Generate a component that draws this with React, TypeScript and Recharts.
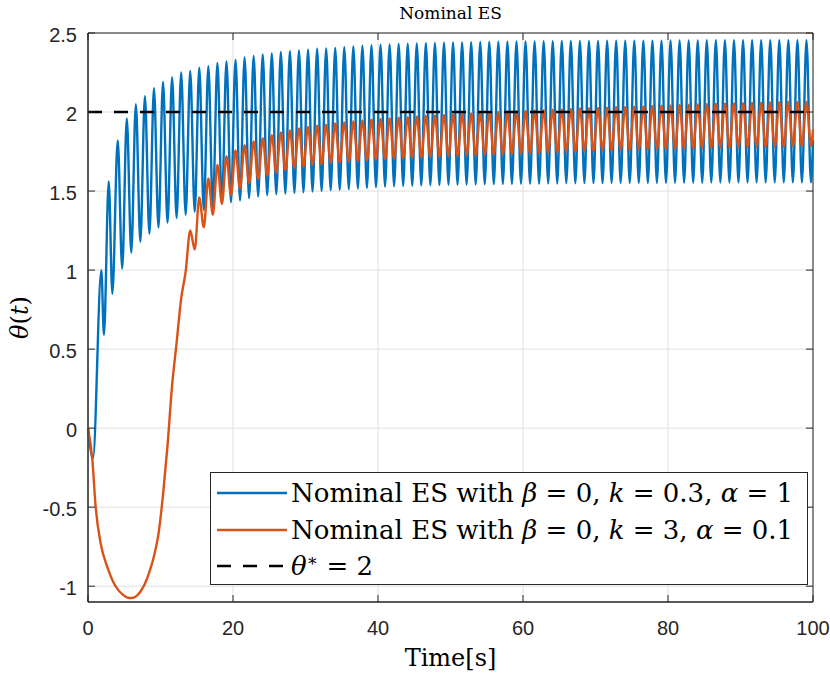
import React from "react";
import { LineChart, Line, XAxis, YAxis, CartesianGrid, ReferenceArea } from "recharts";

const AXIS = "#262626";
const BLUE = "#0072BD";
const ORANGE = "#D95319";
const PLOT = { left: 88, top: 33, right: 813, bottom: 602 };

const xTicks = [0, 20, 40, 60, 80, 100];
const yTicks = [-1, -0.5, 0, 0.5, 1, 1.5, 2, 2.5];
const xDomain = [0, 100];
const yDomain = [-1.1, 2.5];
const targetTheta = 2;

// first few seconds, read one by one
const blueStartT = [0, 0.69, 1.84, 2.2, 2.86, 3.36];
const blueStartY = [0, -0.19, 1.0, 0.59, 1.56, 0.85];
const orangeStartT = [0, 0.6, 1.06, 1.75, 2.67, 3.4];
const orangeStartY = [0, -0.2, -0.5, -0.73, -0.88, -0.965];

// times of the dither peaks / troughs
const peakTimes = [
  4.1, 5.35, 6.6, 7.85, 9.1, 10.35, 11.6, 12.85, 14.1, 15.35,
  16.6, 17.85, 19.1, 20.35, 21.6, 22.85, 24.1, 25.35, 26.6, 27.85,
  29.1, 30.35, 31.6, 32.85, 34.1, 35.35, 36.6, 37.85, 39.1, 40.35,
  41.6, 42.85, 44.1, 45.35, 46.6, 47.85, 49.1, 50.35, 51.6, 52.85,
  54.1, 55.35, 56.6, 57.85, 59.1, 60.35, 61.6, 62.85, 64.1, 65.35,
  66.6, 67.85, 69.1, 70.35, 71.6, 72.85, 74.1, 75.35, 76.6, 77.85,
  79.1, 80.35, 81.6, 82.85, 84.1, 85.35, 86.6, 87.85, 89.1, 90.35,
  91.6, 92.85, 94.1, 95.35, 96.6, 97.85, 99.1,
];
const troughTimes = [
  4.72, 5.97, 7.22, 8.47, 9.72, 10.97, 12.22, 13.47, 14.72, 15.97,
  17.22, 18.47, 19.72, 20.97, 22.22, 23.47, 24.72, 25.97, 27.22, 28.47,
  29.72, 30.97, 32.22, 33.47, 34.72, 35.97, 37.22, 38.47, 39.72, 40.97,
  42.22, 43.47, 44.72, 45.97, 47.22, 48.47, 49.72, 50.97, 52.22, 53.47,
  54.72, 55.97, 57.22, 58.47, 59.72, 60.97, 62.22, 63.47, 64.72, 65.97,
  67.22, 68.47, 69.72, 70.97, 72.22, 73.47, 74.72, 75.97, 77.22, 78.47,
  79.72, 80.97, 82.22, 83.47, 84.72, 85.97, 87.22, 88.47, 89.72, 90.97,
  92.22, 93.47, 94.72, 95.97, 97.22, 98.47, 99.72,
];

const bluePeaks = [
  1.82, 1.96, 2.05, 2.1, 2.15, 2.19, 2.22, 2.25, 2.26, 2.28,
  2.29, 2.31, 2.32, 2.33, 2.345, 2.355, 2.365, 2.37, 2.38, 2.385,
  2.39, 2.395, 2.4, 2.403, 2.406, 2.41, 2.415, 2.42, 2.423, 2.426,
  2.428, 2.43, 2.432, 2.434, 2.436, 2.437, 2.438, 2.44, 2.441, 2.442,
  2.443, 2.444, 2.445, 2.445, 2.446, 2.447, 2.447, 2.448, 2.448, 2.449,
  2.449, 2.45, 2.45, 2.45, 2.451, 2.451, 2.451, 2.452, 2.452, 2.452,
  2.452, 2.453, 2.453, 2.453, 2.453, 2.454, 2.454, 2.454, 2.454, 2.454,
  2.455, 2.455, 2.455, 2.455, 2.455, 2.455, 2.455,
];
const blueTroughs = [
  1.01, 1.11, 1.18, 1.23, 1.27, 1.3, 1.33, 1.35, 1.37, 1.38,
  1.4, 1.42, 1.43, 1.44, 1.455, 1.466, 1.473, 1.48, 1.484, 1.488,
  1.492, 1.497, 1.5, 1.505, 1.508, 1.512, 1.516, 1.52, 1.524, 1.527,
  1.53, 1.532, 1.534, 1.536, 1.537, 1.538, 1.54, 1.54, 1.541, 1.542,
  1.543, 1.544, 1.545, 1.545, 1.546, 1.547, 1.547, 1.548, 1.548, 1.549,
  1.549, 1.55, 1.55, 1.55, 1.551, 1.551, 1.551, 1.552, 1.552, 1.552,
  1.552, 1.553, 1.553, 1.553, 1.553, 1.554, 1.554, 1.554, 1.554, 1.554,
  1.555, 1.555, 1.555, 1.555, 1.555, 1.555, 1.555,
];

// orange at the same instants (the slow dip comes first)
const orangeAtPeaks = [
  -1.02, -1.07, -1.065, -0.985, -0.81, -0.42, 0.27, 0.82, 1.25, 1.46,
  1.58, 1.665, 1.72, 1.757, 1.79, 1.814, 1.835, 1.854, 1.871, 1.884,
  1.896, 1.905, 1.913, 1.92, 1.927, 1.934, 1.94, 1.946, 1.951, 1.956,
  1.96, 1.964, 1.968, 1.972, 1.976, 1.979, 1.982, 1.985, 1.988, 1.991,
  1.994, 1.997, 2.0, 2.002, 2.005, 2.007, 2.01, 2.012, 2.015, 2.017,
  2.02, 2.022, 2.024, 2.026, 2.028, 2.03, 2.032, 2.034, 2.036, 2.038,
  2.04, 2.042, 2.044, 2.046, 2.048, 2.05, 2.052, 2.053, 2.055, 2.056,
  2.058, 2.059, 2.06, 2.062, 2.063, 2.064, 2.066,
];
const orangeAtTroughs = [
  -1.05, -1.075, -1.035, -0.91, -0.67, -0.11, 0.54, 0.99, 1.13, 1.27,
  1.35, 1.42, 1.475, 1.515, 1.55, 1.575, 1.597, 1.615, 1.632, 1.645,
  1.655, 1.664, 1.67, 1.676, 1.681, 1.686, 1.69, 1.694, 1.698, 1.701,
  1.704, 1.707, 1.71, 1.713, 1.716, 1.718, 1.72, 1.722, 1.725, 1.727,
  1.729, 1.731, 1.733, 1.735, 1.737, 1.739, 1.741, 1.743, 1.745, 1.747,
  1.749, 1.751, 1.753, 1.755, 1.757, 1.759, 1.761, 1.762, 1.764, 1.765,
  1.767, 1.768, 1.77, 1.771, 1.772, 1.774, 1.775, 1.776, 1.777, 1.778,
  1.779, 1.78, 1.781, 1.782, 1.783, 1.784, 1.785,
];

const endTime = 100;
const blueEnd = 1.82;
const orangeEnd = 1.89;

function buildSeries(startT: number[], startY: number[], atPeaks: number[], atTroughs: number[], endY: number) {
  const rows = startT.map((t, i) => ({ t, v: startY[i] }));
  peakTimes.forEach((t, i) => {
    rows.push({ t, v: atPeaks[i] });
    rows.push({ t: troughTimes[i], v: atTroughs[i] });
  });
  rows.push({ t: endTime, v: endY });
  return rows;
}

const blueData = buildSeries(blueStartT, blueStartY, bluePeaks, blueTroughs, blueEnd);
const orangeData = buildSeries(orangeStartT, orangeStartY, orangeAtPeaks, orangeAtTroughs, orangeEnd);
const targetData = [
  { t: xDomain[0], v: targetTheta },
  { t: xDomain[1], v: targetTheta },
];

const serif = '"DejaVu Serif", serif';
const sans = '"Liberation Sans", Arial, sans-serif';

const XTick = ({ x, y, payload }: any) => (
  <g>
    <line x1={x} x2={x} y1={PLOT.bottom} y2={PLOT.bottom - 7} stroke={AXIS} />
    <line x1={x} x2={x} y1={PLOT.top} y2={PLOT.top + 7} stroke={AXIS} />
    <text x={x} y={y + 33} textAnchor="middle" fontFamily={sans} fontSize={20} fill={AXIS}>
      {payload.value}
    </text>
  </g>
);

const YTick = ({ x, y, payload }: any) => (
  <g>
    <line x1={PLOT.left} x2={PLOT.left + 7} y1={y} y2={y} stroke={AXIS} />
    <line x1={PLOT.right} x2={PLOT.right - 7} y1={y} y2={y} stroke={AXIS} />
    <text x={x - 11} y={y + 8.5} textAnchor="end" fontFamily={sans} fontSize={20} fill={AXIS}>
      {payload.value}
    </text>
  </g>
);

const legendRows = [
  {
    color: BLUE,
    dash: undefined,
    label: (
      <>
        Nominal ES with <i>β</i> = 0, <i>k</i> = 0.3, <i>α</i> = 1
      </>
    ),
  },
  {
    color: ORANGE,
    dash: undefined,
    label: (
      <>
        Nominal ES with <i>β</i> = 0, <i>k</i> = 3, <i>α</i> = 0.1
      </>
    ),
  },
  {
    color: "#000",
    dash: "14 12",
    label: (
      <>
        <i>θ</i>
        <sup style={{ fontSize: 17, verticalAlign: 9, lineHeight: 0 }}>∗</sup> = 2
      </>
    ),
  },
];

export default function App() {
  return (
    <div style={{ position: "absolute", left: 0, top: 0, width: 830, height: 675, background: "#fff" }}>
      <LineChart width={830} height={675} margin={{ top: PLOT.top, right: 830 - PLOT.right, bottom: 0, left: 0 }}>
        <CartesianGrid stroke="#dfdfdf" strokeWidth={1} />
        <XAxis
          dataKey="t"
          type="number"
          domain={xDomain}
          ticks={xTicks}
          height={675 - PLOT.bottom}
          tickSize={0}
          tickMargin={0}
          tickLine={false}
          axisLine={{ stroke: AXIS }}
          tick={<XTick />}
          label={{
            content: ({ viewBox }: any) => (
              <text x={viewBox.x + viewBox.width / 2} y={666} textAnchor="middle" fontFamily={serif} fontSize={24} fill="#000">
                Time[s]
              </text>
            ),
          }}
        />
        <YAxis
          type="number"
          domain={yDomain}
          ticks={yTicks}
          width={PLOT.left}
          tickSize={0}
          tickMargin={0}
          tickLine={false}
          axisLine={{ stroke: AXIS }}
          tick={<YTick />}
          label={{
            content: ({ viewBox }: any) => {
              const cy = viewBox.y + viewBox.height / 2;
              return (
                <text x={28} y={cy} transform={`rotate(-90 28 ${cy})`} textAnchor="middle" fontFamily={serif} fontSize={24} fill="#000">
                  <tspan fontStyle="italic">θ</tspan>(<tspan fontStyle="italic">t</tspan>)
                </text>
              );
            },
          }}
        />
        <ReferenceArea
          x1={xDomain[0]}
          x2={xDomain[1]}
          y1={yDomain[0]}
          y2={yDomain[1]}
          fill="#fff"
          fillOpacity={0}
          stroke={AXIS}
          strokeWidth={1}
          label={{
            content: ({ viewBox }: any) => (
              <text x={viewBox.x + viewBox.width / 2} y={viewBox.y - 14} textAnchor="middle" fontFamily={serif} fontSize={17} fill="#000">
                Nominal ES
              </text>
            ),
          }}
        />
        <Line data={blueData} dataKey="v" type="monotone" stroke={BLUE} strokeWidth={2.4} dot={false} isAnimationActive={false} />
        <Line data={orangeData} dataKey="v" type="monotone" stroke={ORANGE} strokeWidth={2.4} dot={false} isAnimationActive={false} />
        <Line
          data={targetData}
          dataKey="v"
          type="linear"
          stroke="#000"
          strokeWidth={2.6}
          strokeDasharray="14 12"
          dot={false}
          isAnimationActive={false}
        />
      </LineChart>
      <div
        style={{
          position: "absolute",
          left: 210,
          top: 472,
          width: 598,
          height: 113,
          boxSizing: "border-box",
          border: `1px solid ${AXIS}`,
          background: "#fff",
          fontFamily: serif,
          fontSize: 26,
          color: "#000",
          paddingTop: 2,
        }}
      >
        {legendRows.map((r, i) => (
          <div key={i} style={{ height: 36.5, display: "flex", alignItems: "center", whiteSpace: "nowrap" }}>
            <svg width={70} height={10} style={{ marginLeft: 6, flex: "none" }}>
              <line x1={0} x2={70} y1={5} y2={5} stroke={r.color} strokeWidth={2.6} strokeDasharray={r.dash} />
            </svg>
            <span style={{ marginLeft: 4, lineHeight: 1 }}>{r.label}</span>
          </div>
        ))}
      </div>
    </div>
  );
}
